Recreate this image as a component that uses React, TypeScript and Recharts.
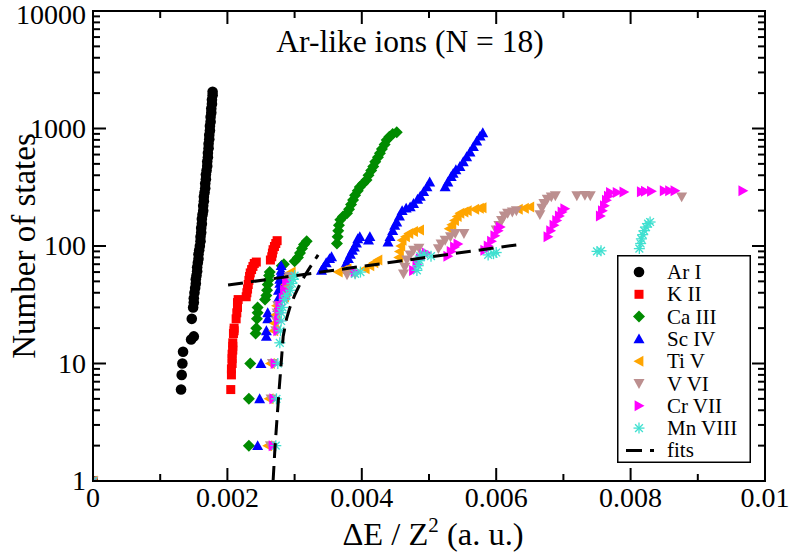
import React from "react";
import { ScatterChart, Scatter, XAxis, YAxis, Legend, ReferenceArea } from "recharts";

// [ΔE/Z^2, number of states]
const arI = [
  [0, 1], [0.00131, 6], [0.00132, 8], [0.00133, 10], [0.00134, 12.6], [0.00146, 16], [0.0015, 17],
  [0.00147, 24], [0.00149, 30], [0.0015, 33], [0.0015, 36], [0.00151, 40], [0.00152, 44], [0.00153, 48],
  [0.00153, 52], [0.00154, 56], [0.00155, 61], [0.00155, 66], [0.00156, 72], [0.00157, 78], [0.00157, 85],
  [0.00158, 92], [0.00159, 100], [0.0016, 110], [0.0016, 120], [0.00161, 130], [0.00161, 142], [0.00162, 155],
  [0.00162, 170], [0.00163, 185], [0.00164, 200], [0.00164, 220], [0.00165, 240], [0.00165, 262], [0.00166, 285],
  [0.00167, 310], [0.00167, 340], [0.00168, 370], [0.00168, 405], [0.00169, 440], [0.0017, 480], [0.0017, 525],
  [0.00171, 570], [0.00171, 620], [0.00172, 680], [0.00172, 740], [0.00173, 810], [0.00173, 880], [0.00174, 960],
  [0.00174, 1050], [0.00175, 1140], [0.00175, 1250], [0.00176, 1360], [0.00176, 1480], [0.00177, 1620],
  [0.00177, 1760], [0.00178, 1920], [0.00178, 2050],
];
const kII = [
  [0, 1], [0.00205, 6], [0.00206, 8], [0.00206, 9], [0.00207, 10], [0.00207, 11], [0.00207, 12], [0.00208, 13],
  [0.00208, 14], [0.00208, 15], [0.00209, 18], [0.0021, 19], [0.0021, 20], [0.00213, 24], [0.00214, 27],
  [0.00215, 30], [0.00215, 33], [0.00216, 35], [0.00228, 37], [0.00229, 40], [0.0023, 43], [0.00231, 47],
  [0.00232, 51], [0.00233, 55], [0.00234, 59], [0.00236, 63], [0.00238, 67], [0.0024, 71], [0.00243, 73],
  [0.00264, 76], [0.00266, 81], [0.00267, 87], [0.00268, 93], [0.0027, 99], [0.00272, 105], [0.00274, 111],
];
const caIII = [
  [0, 1], [0.00232, 2], [0.00232, 5], [0.00234, 10], [0.00242, 18], [0.00243, 20], [0.00244, 24], [0.00245, 27],
  [0.00245, 30], [0.00256, 35], [0.00258, 38], [0.00259, 42], [0.0026, 47], [0.00261, 51], [0.00262, 56],
  [0.00263, 60], [0.00281, 68], [0.00284, 70], [0.003, 74], [0.00305, 80], [0.00308, 87], [0.00311, 95],
  [0.00314, 103], [0.00318, 110],
  [0.00363, 105], [0.00364, 120], [0.00365, 135], [0.00366, 150], [0.00368, 167], [0.00372, 178], [0.00378, 190],
  [0.00381, 205], [0.00384, 225], [0.00387, 246], [0.0039, 270], [0.00394, 295], [0.00397, 318], [0.00402, 340],
  [0.00407, 364], [0.0041, 400], [0.00414, 440], [0.00417, 475], [0.0042, 520], [0.00424, 570], [0.00427, 617],
  [0.0043, 670], [0.00434, 730], [0.00437, 800], [0.00441, 850], [0.00446, 900], [0.00452, 930],
];
const scIV = [
  [0, 1], [0.00245, 2], [0.00248, 5], [0.0025, 10], [0.00258, 17], [0.00258, 19], [0.0026, 24], [0.0026, 27],
  [0.00275, 30], [0.00276, 36], [0.00276, 42], [0.00278, 48], [0.00278, 52], [0.00279, 57], [0.0028, 62],
  [0.0028, 68], [0.0034, 62], [0.00343, 66], [0.00347, 72], [0.00352, 78], [0.00355, 81],
  [0.00377, 72], [0.0038, 78], [0.00383, 85], [0.00386, 92], [0.00389, 98], [0.00392, 106], [0.00394, 115],
  [0.00397, 120], [0.0041, 112], [0.00412, 120],
  [0.00439, 108], [0.00442, 120], [0.00446, 135], [0.00449, 150], [0.00452, 160], [0.00456, 180], [0.0046, 200],
  [0.00466, 210], [0.00472, 215], [0.00477, 230], [0.00483, 250], [0.00487, 265], [0.00492, 290], [0.00497, 318],
  [0.00501, 350],
  [0.00524, 318], [0.00528, 350], [0.00533, 390], [0.00536, 415], [0.0054, 445], [0.00546, 475], [0.00551, 520],
  [0.00556, 575], [0.00561, 630], [0.00566, 700], [0.00571, 780], [0.00576, 860], [0.0058, 920],
];
const tiV = [
  [0, 1], [0.0026, 2], [0.00262, 5], [0.00264, 10], [0.00269, 19], [0.0027, 22], [0.00272, 26], [0.00273, 31],
  [0.00285, 37], [0.00287, 42], [0.00287, 47], [0.0029, 52], [0.00292, 57], [0.00295, 60],
  [0.00365, 60], [0.00372, 62], [0.00378, 64], [0.00405, 64], [0.00412, 68], [0.00418, 72], [0.00424, 76],
  [0.00455, 80], [0.00456, 90], [0.00458, 100], [0.0046, 112], [0.00465, 120], [0.0047, 128], [0.00477, 133],
  [0.00486, 137], [0.0053, 140], [0.00534, 152], [0.00538, 165], [0.00542, 178], [0.00546, 190], [0.00552, 195],
  [0.00557, 200], [0.00568, 205], [0.00575, 210], [0.00579, 212], [0.00633, 205], [0.00642, 210], [0.0065, 215],
];
const vVI = [
  [0, 1], [0.00264, 2], [0.00265, 5], [0.00267, 10], [0.00272, 19], [0.00273, 23], [0.00274, 27], [0.00275, 31],
  [0.00288, 36], [0.0029, 42], [0.0029, 48], [0.00292, 55],
  [0.00378, 57], [0.00385, 62], [0.0039, 58], [0.00462, 58], [0.00464, 66], [0.00467, 76], [0.00472, 84],
  [0.00477, 92], [0.00485, 96], [0.00514, 95], [0.00518, 104], [0.00524, 112], [0.00532, 120], [0.00539, 128],
  [0.00552, 128], [0.006, 137], [0.00604, 150], [0.00608, 165], [0.00612, 180], [0.00617, 190], [0.00624, 195],
  [0.0063, 200], [0.00665, 185], [0.00668, 210], [0.00671, 230], [0.00676, 250], [0.00682, 262], [0.00688, 268],
  [0.0072, 268], [0.00732, 270], [0.0074, 268], [0.00876, 262],
];
const crVII = [
  [0, 1], [0.00268, 2], [0.00269, 5], [0.00271, 10], [0.00275, 19], [0.00276, 23], [0.00277, 27], [0.00278, 31],
  [0.00283, 36], [0.00285, 42], [0.00288, 50],
  [0.0039, 60], [0.00477, 62], [0.00482, 70], [0.00487, 78], [0.00492, 84], [0.00496, 87], [0.00528, 82],
  [0.00533, 90], [0.00538, 98], [0.00543, 104], [0.00583, 92], [0.00588, 100], [0.00593, 110], [0.00598, 122],
  [0.00603, 135], [0.00606, 145], [0.00677, 120], [0.00681, 135], [0.00686, 150], [0.0069, 165], [0.00694, 180],
  [0.00698, 195], [0.00702, 208], [0.00755, 180], [0.00758, 200], [0.00761, 220], [0.00764, 245], [0.00767, 265],
  [0.0077, 285], [0.0078, 285], [0.0079, 288], [0.00816, 290], [0.00822, 292], [0.00831, 292], [0.0085, 295],
  [0.00858, 295], [0.00866, 295], [0.00967, 295],
];
const mnVIII = [
  [0, 1], [0.00272, 2], [0.00273, 5], [0.00275, 10], [0.00278, 15], [0.00279, 19], [0.0028, 23], [0.0028, 27],
  [0.00282, 30], [0.00285, 35], [0.00288, 38], [0.00294, 42], [0.00296, 48], [0.00298, 52], [0.003, 56],
  [0.0039, 58], [0.00398, 60], [0.00482, 62], [0.00484, 68], [0.00486, 75], [0.00487, 82], [0.00493, 85],
  [0.00503, 82], [0.00588, 84], [0.00596, 86], [0.006, 88], [0.0075, 90], [0.00756, 91], [0.00813, 95],
  [0.00815, 105], [0.00816, 115], [0.00818, 125], [0.0082, 135], [0.00823, 145], [0.00826, 155], [0.00829, 160],
];
const fitSteep = [
  [0.00268, 1], [0.00271, 2], [0.00274, 3.5], [0.00277, 6], [0.0028, 10], [0.00283, 17], [0.00288, 24],
  [0.00293, 30], [0.003, 38], [0.0031, 50], [0.0032, 62], [0.0033, 76], [0.00335, 84],
];
const fitFlat = [[0.00201, 46.6], [0.0064, 104]];

const xTicks = [0, 0.001, 0.002, 0.003, 0.004, 0.005, 0.006, 0.007, 0.008, 0.009, 0.01];
const xMajor = [0, 0.002, 0.004, 0.006, 0.008, 0.01];
const xLabels = ["0", "0.002", "0.004", "0.006", "0.008", "0.01"];
const yTicks = [
  1, 2, 3, 4, 5, 6, 7, 8, 9, 10, 20, 30, 40, 50, 60, 70, 80, 90, 100, 200, 300, 400, 500, 600, 700, 800, 900,
  1000, 2000, 3000, 4000, 5000, 6000, 7000, 8000, 9000, 10000,
];
const yMajor = [1, 10, 100, 1000, 10000];

const series = [
  { name: "Ar I", data: arI, kind: "circle", color: "#000000" },
  { name: "K II", data: kII, kind: "square", color: "#ff0000" },
  { name: "Ca III", data: caIII, kind: "diamond", color: "#008b00" },
  { name: "Sc IV", data: scIV, kind: "up", color: "#0000ff" },
  { name: "Ti V", data: tiV, kind: "left", color: "#ffa500" },
  { name: "V VI", data: vVI, kind: "down", color: "#bc8f8f" },
  { name: "Cr VII", data: crVII, kind: "right", color: "#ff00ff" },
  { name: "Mn VIII", data: mnVIII, kind: "star", color: "#40e0d0" },
];

const toPts = (arr: number[][]) => arr.map(([x, y]) => ({ x, y }));

const FONT = "Liberation Serif, Times New Roman, Times, serif";
const W = 789;
const H = 556;
const PL = 93;
const PR = 765;
const PT = 11;
const PB = 481;

function Marker({ kind, cx, cy, color }: { kind: string; cx: number; cy: number; color: string }) {
  if (cx == null || cy == null) return <g />;
  const s = 5.5;
  switch (kind) {
    case "circle":
      return <circle cx={cx} cy={cy} r={5.3} fill={color} />;
    case "square":
      return <rect x={cx - 4.5} y={cy - 4.5} width={9} height={9} fill={color} />;
    case "diamond":
      return <polygon points={`${cx},${cy - 6} ${cx + 6},${cy} ${cx},${cy + 6} ${cx - 6},${cy}`} fill={color} />;
    case "up":
      return <polygon points={`${cx},${cy - s} ${cx + s},${cy + s * 0.8} ${cx - s},${cy + s * 0.8}`} fill={color} />;
    case "down":
      return <polygon points={`${cx},${cy + s} ${cx + s},${cy - s * 0.8} ${cx - s},${cy - s * 0.8}`} fill={color} />;
    case "left":
      return <polygon points={`${cx - s},${cy} ${cx + s * 0.8},${cy - s} ${cx + s * 0.8},${cy + s}`} fill={color} />;
    case "right":
      return <polygon points={`${cx + s},${cy} ${cx - s * 0.8},${cy - s} ${cx - s * 0.8},${cy + s}`} fill={color} />;
    default: {
      const r = 5.5;
      const d = r * 0.707;
      return (
        <g stroke={color} strokeWidth={1.3}>
          <line x1={cx - r} y1={cy} x2={cx + r} y2={cy} />
          <line x1={cx} y1={cy - r} x2={cx} y2={cy + r} />
          <line x1={cx - d} y1={cy - d} x2={cx + d} y2={cy + d} />
          <line x1={cx - d} y1={cy + d} x2={cx + d} y2={cy - d} />
        </g>
      );
    }
  }
}

const YTick = (props: any) => {
  const { y, payload } = props;
  const v = payload.value;
  const major = yMajor.includes(v);
  const len = major ? 13 : 7;
  return (
    <g>
      <line x1={PL} y1={y} x2={PL + len} y2={y} stroke="#000" strokeWidth={2} />
      <line x1={PR} y1={y} x2={PR - len} y2={y} stroke="#000" strokeWidth={2} />
      {major && (
        <text x={PL - 7} y={Math.max(y + 9, 24)} textAnchor="end" fontSize={28} fontFamily={FONT} fill="#000">
          {String(v)}
        </text>
      )}
    </g>
  );
};

const XTick = (props: any) => {
  const { x, payload } = props;
  const v = payload.value;
  const idx = xMajor.indexOf(v);
  const len = idx >= 0 ? 13 : 7;
  return (
    <g>
      <line x1={x} y1={PB} x2={x} y2={PB - len} stroke="#000" strokeWidth={2} />
      <line x1={x} y1={PT} x2={x} y2={PT + len} stroke="#000" strokeWidth={2} />
      {idx >= 0 && (
        <text x={x} y={507} textAnchor="middle" fontSize={28} fontFamily={FONT} fill="#000">
          {xLabels[idx]}
        </text>
      )}
    </g>
  );
};

const XTitle = () => (
  <text x={433} y={545} textAnchor="middle" fontSize={32.5} fontFamily={FONT} fill="#000">
    ΔE / Z
    <tspan dy={-13} fontSize={21}>2</tspan>
    <tspan dy={13}> (a. u.)</tspan>
  </text>
);

const YTitle = () => (
  <text transform="translate(35,246) rotate(-90)" textAnchor="middle" fontSize={33} fontFamily={FONT} fill="#000">
    Number of states
  </text>
);

const Title = () => (
  <text x={410} y={52} textAnchor="middle" fontSize={31.5} fontFamily={FONT} fill="#000">
    Ar-like ions (N = 18)
  </text>
);

const LegendBox = () => {
  const rows = [...series.map((s) => ({ name: s.name, kind: s.kind, color: s.color })), { name: "fits", kind: "fit", color: "#000" }];
  return (
    <svg width={134} height={208} style={{ display: "block" }}>
      <rect x={0.75} y={0.75} width={132.5} height={206.5} fill="#fff" stroke="#000" strokeWidth={1.5} />
      {rows.map((r, i) => {
        const cy = 17 + i * 22.3;
        return (
          <g key={r.name}>
            {r.kind === "fit" ? (
              <line x1={9} y1={cy} x2={37} y2={cy} stroke="#000" strokeWidth={3} strokeDasharray="16 8" />
            ) : (
              <Marker kind={r.kind} cx={22} cy={cy} color={r.color} />
            )}
            <text x={50} y={cy + 7} fontSize={21} fontFamily={FONT} fill="#000">
              {r.name}
            </text>
          </g>
        );
      })}
    </svg>
  );
};

export default function App() {
  return (
    <div style={{ width: W, height: H, background: "#fff" }}>
      <style>{`body{margin:0;background:#fff} svg text, svg tspan{font-family:"Liberation Serif","Times New Roman",Times,serif !important}`}</style>
      <ScatterChart width={W} height={H} margin={{ top: PT, right: W - PR, bottom: 0, left: 0 }}>
        <XAxis
          type="number"
          dataKey="x"
          domain={[0, 0.01]}
          ticks={xTicks}
          interval={0}
          tick={(p: any) => <XTick {...p} />}
          tickLine={false}
          axisLine={false}
          height={H - PB}
          allowDataOverflow
          label={<XTitle />}
        />
        <YAxis
          type="number"
          dataKey="y"
          scale="log"
          domain={[1, 10000]}
          ticks={yTicks}
          interval={0}
          tick={(p: any) => <YTick {...p} />}
          tickLine={false}
          axisLine={false}
          width={PL}
          allowDataOverflow
          label={<YTitle />}
        />
        <ReferenceArea
          x1={0}
          x2={0.01}
          y1={1}
          y2={10000}
          fill="none"
          fillOpacity={0}
          stroke="#000"
          strokeWidth={2}
          label={<Title />}
        />
        {series.map((s) => (
          <Scatter
            key={s.name}
            name={s.name}
            data={toPts(s.data)}
            fill={s.color}
            isAnimationActive={false}
            shape={(p: any) => <Marker kind={s.kind} cx={p.cx} cy={p.cy} color={s.color} />}
          />
        ))}
        <Scatter
          name="fits"
          data={toPts(fitSteep)}
          fill="#000"
          isAnimationActive={false}
          line={{ stroke: "#000", strokeWidth: 3, strokeDasharray: "15 8" }}
          shape={() => <g />}
        />
        <Scatter
          name="fits2"
          data={toPts(fitFlat)}
          fill="#000"
          isAnimationActive={false}
          line={{ stroke: "#000", strokeWidth: 3, strokeDasharray: "15 8" }}
          shape={() => <g />}
        />
        <Legend
          layout="vertical"
          align="center"
          verticalAlign="middle"
          wrapperStyle={{ left: 617, top: 255, width: 134, height: 208 }}
          content={() => <LegendBox />}
        />
      </ScatterChart>
    </div>
  );
}
